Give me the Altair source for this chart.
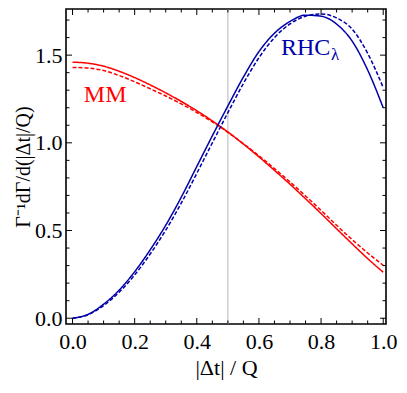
import altair as alt
import pandas as pd

# ---- data ----
x_grid = [0.0, 0.05, 0.1, 0.15, 0.2, 0.25, 0.3, 0.35, 0.4, 0.45, 0.5,
          0.55, 0.6, 0.65, 0.7, 0.75, 0.8, 0.85, 0.9, 0.95, 1.0]
mm_solid = [1.460, 1.454, 1.437, 1.408, 1.372, 1.330, 1.285, 1.236, 1.183, 1.125, 1.062,
            0.993, 0.920, 0.843, 0.764, 0.681, 0.597, 0.510, 0.424, 0.340, 0.262]
mm_dashed = [1.430, 1.426, 1.412, 1.384, 1.348, 1.308, 1.267, 1.222, 1.173, 1.119, 1.060,
             0.995, 0.926, 0.853, 0.777, 0.697, 0.615, 0.530, 0.448, 0.372, 0.302]
rhc_solid = [0.0, 0.022, 0.080, 0.160, 0.265, 0.390, 0.530, 0.690, 0.865, 1.040, 1.210,
             1.375, 1.520, 1.625, 1.692, 1.728, 1.722, 1.677, 1.580, 1.415, 1.200]
rhc_dashed = [0.0, 0.020, 0.072, 0.148, 0.247, 0.366, 0.502, 0.656, 0.826, 1.000, 1.172,
              1.338, 1.485, 1.600, 1.678, 1.722, 1.735, 1.712, 1.648, 1.510, 1.315]

x_major = [0.0, 0.2, 0.4, 0.6, 0.8, 1.0]
x_minor = [0.05, 0.1, 0.15, 0.25, 0.3, 0.35, 0.45, 0.5, 0.55, 0.65, 0.7, 0.75, 0.85, 0.9, 0.95]
y_major = [0.0, 0.5, 1.0, 1.5]
y_minor = [0.1, 0.2, 0.3, 0.4, 0.6, 0.7, 0.8, 0.9, 1.1, 1.2, 1.3, 1.4, 1.6, 1.7]
ref_line = [0.5]

W, H = 320, 315
FONT = "Liberation Serif"
RED = "#ff0000"
BLUE = "#0000aa"

xs = alt.Scale(domain=[-0.021, 1.009], nice=False, zero=False)
ys = alt.Scale(domain=[-0.033, 1.763], nice=False, zero=False)

X_TITLE = "|Δt| / Q"
Y_TITLE = "Γ⁻¹dΓ/d(|Δt|/Q)"

rows = []
for name, model, style in [(mm_solid, "MM", "solid"), (mm_dashed, "MM", "dashed"),
                           (rhc_solid, "RHC", "solid"), (rhc_dashed, "RHC", "dashed")]:
    for xv, yv in zip(x_grid, name):
        rows.append({"x": xv, "y": yv, "model": model, "style": style,
                     "key": model + style})
curves = pd.DataFrame(rows)

lines = alt.Chart(curves).mark_line(strokeWidth=1.5, interpolate="monotone").encode(
    x=alt.X("x:Q", scale=xs, title=X_TITLE,
            axis=alt.Axis(values=x_major, format=".1f",
                          labelPadding=7, titlePadding=5, labelFlush=False)),
    y=alt.Y("y:Q", scale=ys, title=Y_TITLE,
            axis=alt.Axis(values=y_major, format=".1f",
                          labelPadding=4, titlePadding=1, titleFontSize=20,
                          labelFlush=False)),
    color=alt.Color("model:N", scale=alt.Scale(domain=["MM", "RHC"], range=[RED, BLUE]),
                    legend=None),
    strokeDash=alt.StrokeDash("style:N",
                              scale=alt.Scale(domain=["solid", "dashed"], range=[[1, 0], [4, 2]]),
                              legend=None),
    detail="key:N",
)

vline = alt.Chart(pd.DataFrame({"x": ref_line})).mark_rule(color="#cfcfcf", strokeWidth=1.5).encode(
    x=alt.X("x:Q", scale=xs, title=X_TITLE)
)

def xticks(vals, length):
    df = pd.DataFrame({"x": vals})
    bottom = alt.Chart(df).mark_rule(color="black", strokeWidth=1).encode(
        x=alt.X("x:Q", scale=xs, title=X_TITLE), y=alt.value(H), y2=alt.value(H - length))
    top = alt.Chart(df).mark_rule(color="black", strokeWidth=1).encode(
        x=alt.X("x:Q", scale=xs, title=X_TITLE), y=alt.value(0), y2=alt.value(length))
    return [bottom, top]

def yticks(vals, length):
    df = pd.DataFrame({"y": vals})
    left = alt.Chart(df).mark_rule(color="black", strokeWidth=1).encode(
        y=alt.Y("y:Q", scale=ys, title=Y_TITLE), x=alt.value(0), x2=alt.value(length))
    right = alt.Chart(df).mark_rule(color="black", strokeWidth=1).encode(
        y=alt.Y("y:Q", scale=ys, title=Y_TITLE), x=alt.value(W), x2=alt.value(W - length))
    return [left, right]

ticks = xticks(x_major, 6) + xticks(x_minor, 3.5) + yticks(y_major, 6) + yticks(y_minor, 3.5)

def label(xv, yv, txt, size, color, align, dx=0, dy=0):
    return alt.Chart(pd.DataFrame({"x": [xv], "y": [yv], "t": [txt]})).mark_text(
        font=FONT, fontSize=size, color=color, align=align, baseline="alphabetic",
        dx=dx, dy=dy).encode(
        x=alt.X("x:Q", scale=xs, title=X_TITLE),
        y=alt.Y("y:Q", scale=ys, title=Y_TITLE), text="t:N")

mm_label = label(0.105, 1.233, "MM", 24, RED, "center")
rhc_label = label(0.671, 1.50, "RHC", 24, BLUE, "left")
lam_label = label(0.671, 1.50, "λ", 17, BLUE, "left", dx=50, dy=5)

chart = alt.layer(vline, lines, *ticks, mm_label, rhc_label, lam_label).properties(
    width=W, height=H,
    autosize=alt.AutoSizeParams(type="none"),
    padding={"left": 58, "top": 1, "right": 13, "bottom": 56},
).configure_view(stroke="black", strokeWidth=1.6).configure_axis(
    grid=False, ticks=False, domain=False,
    labelFont=FONT, labelFontSize=22, labelColor="black",
    titleFont=FONT, titleFontSize=22, titleFontWeight="normal", titleColor="black",
)

chart.save("out.html", embed_options={"renderer": "svg", "actions": False})
